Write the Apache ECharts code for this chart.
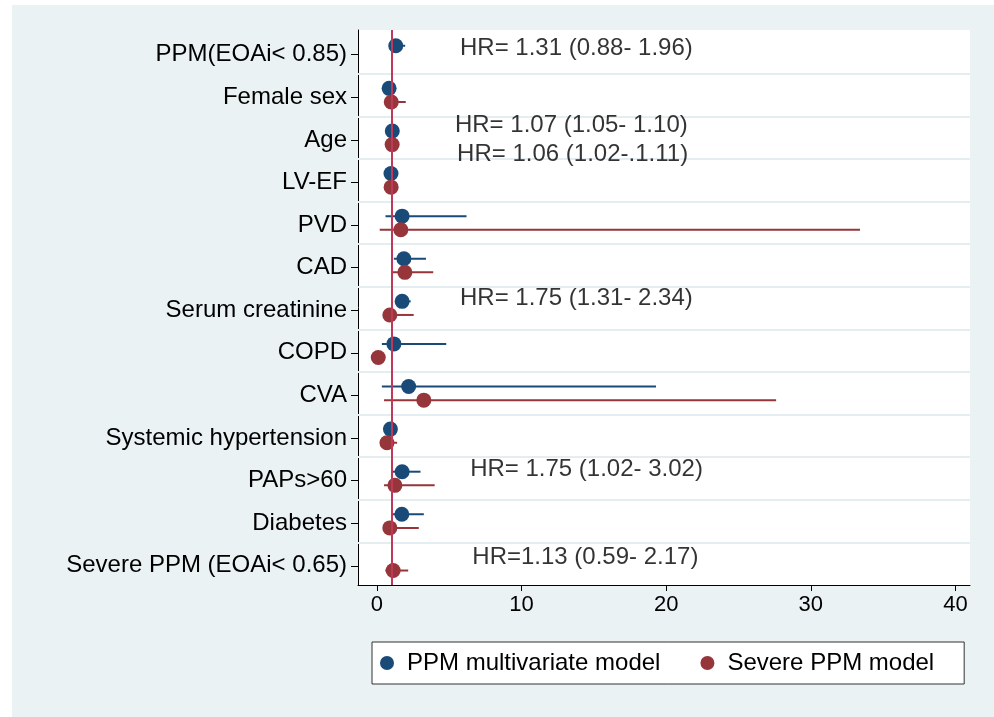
<!DOCTYPE html>
<html><head><meta charset="utf-8">
<script src="https://cdn.jsdelivr.net/npm/echarts@6.0.0/dist/echarts.min.js"></script>
<style>html,body{margin:0;padding:0;background:#fff}#c{width:994px;height:717px}</style>
</head><body><div id="c"></div>
<script>
// ---- data ----
const categories = ["PPM(EOAi< 0.85)","Female sex","Age","LV-EF","PVD","CAD","Serum creatinine","COPD","CVA","Systemic hypertension","PAPs>60","Diabetes","Severe PPM (EOAi< 0.65)"];
const ppmHR   = [1.31, 0.85, 1.07, 0.98, 1.75, 1.87, 1.75, 1.18, 2.2, 0.94, 1.75, 1.73, null];
const ppmLow  = [0.88, 0.60, 1.05, 0.96, 0.60, 1.18, 1.31, 0.35, 0.35, 0.70, 1.02, 1.00, null];
const ppmHigh = [1.96, 1.20, 1.10, 1.00, 6.20, 3.40, 2.34, 4.80, 19.3, 1.25, 3.02, 3.25, null];
const sevHR   = [null, 1.00, 1.06, 0.99, 1.66, 1.94, 0.90, 0.10, 3.25, 0.70, 1.25, 0.90, 1.13];
const sevLow  = [null, 0.50, 1.02, 0.97, 0.20, 1.00, 0.50, 0.05, 0.50, 0.40, 0.50, 0.50, 0.59];
const sevHigh = [null, 2.00, 1.11, 1.01, 33.4, 3.90, 2.55, 0.20, 27.6, 1.40, 4.00, 2.90, 2.17];
const xTicks = [0, 10, 20, 30, 40];
const seriesNames = ["PPM multivariate model", "Severe PPM model"];
const annotTexts = ["HR= 1.31 (0.88- 1.96)","HR= 1.07 (1.05- 1.10)","HR= 1.06 (1.02-.1.11)","HR= 1.75 (1.31- 2.34)","HR= 1.75 (1.02- 3.02)","HR=1.13 (0.59- 2.17)"];
// annotation anchors (x value, row position)
const annotX   = [5.75, 5.4, 5.55, 5.75, 6.45, 6.6];
const annotRow = [-0.16, 1.65, 2.35, 5.72, 9.74, 11.81];

// ---- styling ----
const BLUE = '#1a4a78', RED = '#96353a', REF = '#c0385a';
const FONT = 'Liberation Sans, Arial, Helvetica, sans-serif';
const OFF_BLUE = -0.21, OFF_RED = 0.11;

function pts(hr, off) {
  const out = [];
  hr.forEach((v, i) => { if (v != null) out.push([v, i + off]); });
  return out;
}
function cis(lo, hi, off) {
  const out = [];
  lo.forEach((v, i) => { if (v != null) out.push([v, i + off, hi[i]]); });
  return out;
}
function ciRender(params, api) {
  const a = api.coord([api.value(0), api.value(1)]);
  const b = api.coord([api.value(2), api.value(1)]);
  return { type: 'line', shape: { x1: a[0], y1: a[1], x2: b[0], y2: b[1] },
           style: { stroke: api.visual('color'), lineWidth: 2 } };
}
const rowIdx = categories.map((c, i) => i);
const gridLines = categories.slice(1).map((c, i) => ({ yAxis: i + 0.45 }));

const chart = echarts.init(document.getElementById('c'), null, { renderer: 'canvas' });
chart.setOption({
  backgroundColor: '#fff',
  animation: false,
  textStyle: { fontFamily: FONT },
  graphic: [{ type: 'rect', z: -10, shape: { x: 12, y: 5, width: 994, height: 717 }, style: { fill: '#eaf2f3' } }],
  grid: { left: 358, right: 24, top: 30, bottom: 132, show: true, backgroundColor: '#fff', borderWidth: 0 },
  xAxis: {
    type: 'value', min: -1.3, max: 41,
    axisLine: { show: true, onZero: false, lineStyle: { color: '#000', width: 1 } },
    axisTick: { show: true, customValues: xTicks, length: 6, lineStyle: { color: '#000' } },
    axisLabel: { customValues: xTicks, fontSize: 22, color: '#000', margin: 9, fontFamily: FONT },
    splitLine: { show: false }
  },
  yAxis: {
    type: 'value', inverse: true, min: -0.58, max: 12.45,
    axisLine: { show: true, onZero: false, lineStyle: { color: '#000', width: 1 } },
    axisTick: { show: true, customValues: rowIdx, length: 7, lineStyle: { color: '#000' } },
    axisLabel: { customValues: rowIdx, fontSize: 24, color: '#000', margin: 11, fontFamily: FONT,
                 formatter: v => categories[Math.round(v)] },
    splitLine: { show: false }
  },
  legend: {
    data: seriesNames.map(n => ({ name: n, icon: 'circle' })),
    left: 372, top: 642, orient: 'horizontal',
    itemWidth: 14, itemHeight: 14, itemGap: 40,
    padding: [9, 30, 9, 8],
    backgroundColor: '#fff', borderColor: '#333', borderWidth: 1,
    textStyle: { fontSize: 24, color: '#000', fontFamily: FONT, padding: [0, 0, 0, 8] }
  },
  series: [
    { type: 'line', name: 'grid', data: [], z: 1, silent: true,
      markLine: { silent: true, symbol: 'none', label: { show: false },
                  lineStyle: { color: '#e4edf0', width: 2, type: 'solid' }, data: gridLines } },
    { type: 'line', name: 'ref', data: [], z: 2, silent: true,
      markLine: { silent: true, symbol: 'none', label: { show: false },
                  lineStyle: { color: REF, width: 2, type: 'solid' }, data: [{ xAxis: 1 }] } },
    { type: 'custom', name: seriesNames[0], renderItem: ciRender, itemStyle: { color: BLUE },
      encode: { x: [0, 2], y: 1 }, data: cis(ppmLow, ppmHigh, OFF_BLUE), z: 3 },
    { type: 'custom', name: seriesNames[1], renderItem: ciRender, itemStyle: { color: RED },
      encode: { x: [0, 2], y: 1 }, data: cis(sevLow, sevHigh, OFF_RED), z: 3 },
    { type: 'scatter', name: seriesNames[0], symbol: 'circle', symbolSize: 15, itemStyle: { color: BLUE, opacity: 1 },
      data: pts(ppmHR, OFF_BLUE), z: 4 },
    { type: 'scatter', name: seriesNames[1], symbol: 'circle', symbolSize: 15, itemStyle: { color: RED, opacity: 1 },
      data: pts(sevHR, OFF_RED), z: 4 },
    { type: 'scatter', name: 'annot', symbolSize: 0, silent: true, z: 5,
      data: annotTexts.map((t, i) => [annotX[i], annotRow[i], t]),
      label: { show: true, position: 'right', distance: 0, fontSize: 24, color: '#000', fontFamily: FONT,
               formatter: p => p.data[2] } }
  ]
});
</script></body></html>
